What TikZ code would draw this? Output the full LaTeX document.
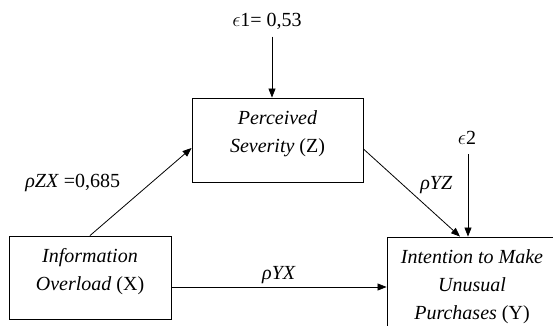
\documentclass[tikz,border=0pt]{standalone}
\usepackage{fontspec}
\setmainfont{Liberation Serif}
\usetikzlibrary{arrows.meta}
\tikzset{
  varbox/.style={draw, line width=0.9pt, inner sep=0pt},
  boxtext/.style={anchor=north, align=center, inner ysep=13pt},
  link/.style={-{Triangle[length=9pt,width=7pt]}, line width=0.8pt}
}
\begin{document}
\begin{tikzpicture}[x=1pt, y=-1pt, font=\fontsize{20}{28}\selectfont]
\useasboundingbox (0,0) rectangle (553,325);
\clip (0,0) rectangle (553,325);

\node[varbox, minimum width=162pt, minimum height=83pt,
  label={[boxtext]north:{\textit{Information}\\\textit{Overload} (X)}}] (X) at (90,277.5) {};
\node[varbox, minimum width=171pt, minimum height=84pt,
  label={[boxtext]north:{\textit{Perceived}\\\textit{Severity} (Z)}}] (Z) at (277.5,140) {};
\node[varbox, minimum width=170pt, minimum height=100pt,
  label={[boxtext]north:{\textit{Intention to Make}\\\textit{Unusual}\\\textit{Purchases} (Y)}}] (Y) at (472,287) {};

\node (e1) at (267,21) {$\epsilon$1= 0,53};
\node (e2) at (467,138) {$\epsilon$2};

\draw[link] ([xshift=5pt, yshift=-4pt]e1.south) -- ([xshift=-5.5pt]Z.north);
\draw[link] ([xshift=1pt, yshift=-6pt]e2.south) -- ([xshift=-4pt]Y.north);

\draw[link] (X.north) -- ([yshift=-8pt]Z.west) node[pos=0.6, left=27pt] {\textit{ρZX} =0,685};
\draw[link] ([yshift=-9pt]Z.east) -- ([xshift=-12pt]Y.north) node[pos=0.55, above right] {\textit{ρYZ}};
\draw[link] ([yshift=-9.5pt]X.east) -- (Y.west) node[midway, above] {\textit{ρYX}};

\end{tikzpicture}
\end{document}
